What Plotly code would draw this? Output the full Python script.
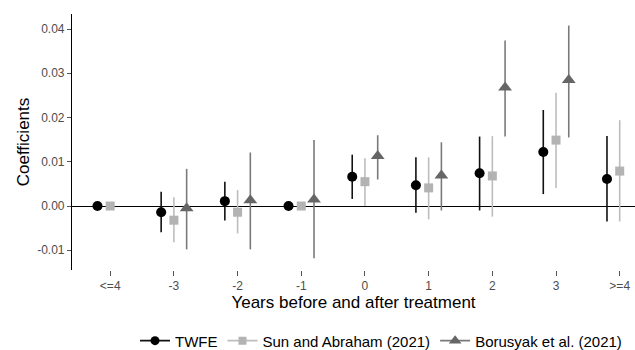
import plotly.graph_objects as go

categories = ["<=4", "-3", "-2", "-1", "0", "1", "2", "3", ">=4"]

twfe_est = [0.0, -0.0014, 0.0011, 0.0, 0.0066, 0.0047, 0.0074, 0.0122, 0.0061]
twfe_lo = [0.0, -0.0059, -0.0033, 0.0, 0.0016, -0.0015, -0.0010, 0.0027, -0.0035]
twfe_hi = [0.0, 0.0032, 0.0055, 0.0, 0.0116, 0.0110, 0.0157, 0.0217, 0.0158]

sa_est = [0.0, -0.0032, -0.0014, 0.0, 0.0055, 0.0041, 0.0068, 0.0149, 0.0079]
sa_lo = [0.0, -0.0082, -0.0062, 0.0, 0.0000, -0.0030, -0.0024, 0.0041, -0.0035]
sa_hi = [0.0, 0.0020, 0.0036, 0.0, 0.0108, 0.0110, 0.0158, 0.0256, 0.0194]

bo_cats = ["-3", "-2", "-1", "0", "1", "2", "3"]
bo_est = [-0.0005, 0.0013, 0.0015, 0.0113, 0.0069, 0.0268, 0.0285]
bo_lo = [-0.0098, -0.0098, -0.0118, 0.0060, -0.0010, 0.0157, 0.0155]
bo_hi = [0.0084, 0.0121, 0.0149, 0.0160, 0.0144, 0.0374, 0.0408]

y_ticks = [-0.01, 0.0, 0.01, 0.02, 0.03, 0.04]
y_tick_text = ["-0.01", "0.00", "0.01", "0.02", "0.03", "0.04"]

dodge = 0.2
idx = {c: i for i, c in enumerate(categories)}

series = [
    ("TWFE", categories, twfe_est, twfe_lo, twfe_hi, -dodge, "black", "#111111", "circle", 10),
    ("Sun and Abraham (2021)", categories, sa_est, sa_lo, sa_hi, 0.0, "#b3b3b3", "#bdbdbd", "square", 9),
    ("Borusyak et al. (2021)", bo_cats, bo_est, bo_lo, bo_hi, dodge, "#666666", "#7a7a7a", "triangle-up", 12),
]

fig = go.Figure()
for name, cats, est, lo, hi, off, mcol, lcol, sym, size in series:
    xs = [idx[c] + off for c in cats]
    fig.add_trace(go.Scatter(
        x=xs, y=est, mode="markers", showlegend=False,
        marker=dict(color=mcol, symbol=sym, size=size, line=dict(width=0)),
        error_y=dict(type="data", symmetric=False,
                     array=[h - e for h, e in zip(hi, est)],
                     arrayminus=[e - l for e, l in zip(est, lo)],
                     width=0, thickness=1.6, color=lcol),
    ))
for name, cats, est, lo, hi, off, mcol, lcol, sym, size in series:
    fig.add_trace(go.Scatter(
        x=[None], y=[None], mode="lines+markers", name=name,
        marker=dict(color=mcol, symbol=sym, size=size - 1, line=dict(width=0)),
        line=dict(color=lcol, width=1.6),
    ))

font = "Liberation Sans, Arial, sans-serif"
fig.update_layout(
    width=635, height=350,
    margin=dict(l=72, r=0, t=14, b=80),
    paper_bgcolor="white", plot_bgcolor="white",
    font=dict(family=font, color="black"),
    showlegend=True,
    legend=dict(orientation="h", xref="container", yref="container",
                x=0.6, xanchor="center", y=0.026, yanchor="middle",
                font=dict(size=15, color="black"), itemwidth=30,
                tracegroupgap=0),
    xaxis=dict(
        range=[-0.6, 8.24], tickmode="array",
        tickvals=list(range(len(categories))), ticktext=categories,
        showgrid=False, zeroline=False, showline=False,
        ticks="outside", ticklen=5, tickcolor="#555555", tickwidth=1,
        tickfont=dict(size=12, color="#4d4d4d"),
        title=dict(text="Years before and after treatment", font=dict(size=17), standoff=3),
    ),
    yaxis=dict(
        range=[-0.01446, 0.0434], tickmode="array",
        tickvals=y_ticks, ticktext=y_tick_text,
        showgrid=False, zeroline=True, zerolinecolor="black", zerolinewidth=1.2,
        showline=True, linecolor="black", linewidth=1.2,
        ticks="outside", ticklen=4, tickcolor="#555555", tickwidth=1,
        tickfont=dict(size=12, color="#4d4d4d"),
        title=dict(text="Coefficients", font=dict(size=17), standoff=3),
    ),
)

fig.write_html("out.html")
